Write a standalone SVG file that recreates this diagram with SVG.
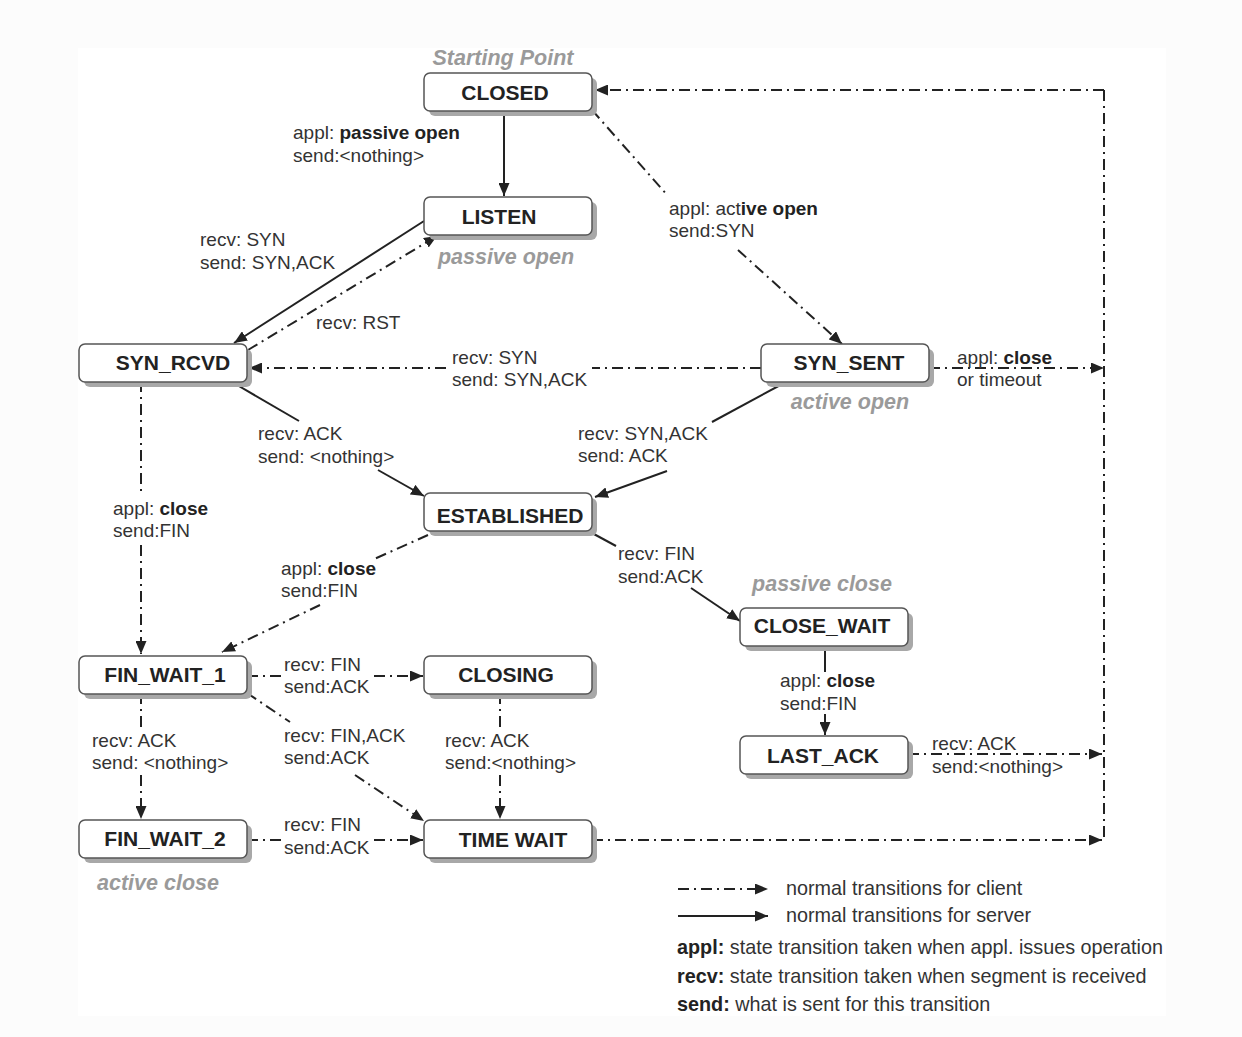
<svg xmlns="http://www.w3.org/2000/svg" width="1242" height="1037" viewBox="0 0 1242 1037">
<style>
.sh{fill:#a8a8a8}
.bx{fill:#fff;stroke:#555;stroke-width:1.5}
.nt{font-family:"Liberation Sans",Arial,sans-serif;font-weight:bold;font-size:21px;fill:#222;text-anchor:middle}
.gl{font-family:"Liberation Sans",Arial,sans-serif;font-weight:bold;font-style:italic;font-size:21.5px;fill:#9a9a9a;text-anchor:middle}
.el{font-family:"Liberation Sans",Arial,sans-serif;font-size:19px;fill:#333}
.lg{font-family:"Liberation Sans",Arial,sans-serif;font-size:19.8px;fill:#333}
.b{font-weight:bold;fill:#222}
.s{fill:none;stroke:#222;stroke-width:2}
.d{fill:none;stroke:#222;stroke-width:2;stroke-dasharray:11 5 2 5}
</style>
<defs>
<marker id="ah" viewBox="0 0 13 11" refX="13" refY="5.5" markerWidth="13" markerHeight="11" markerUnits="userSpaceOnUse" orient="auto">
<path d="M0,0 L13,5.5 L0,11 Z" fill="#222"/>
</marker>
</defs>
<rect x="0" y="0" width="1242" height="1037" fill="#fcfcfc"/>
<rect x="78" y="48" width="1088" height="968" fill="#fff"/>

<g id="connectors">
<!-- solid -->
<line class="s" x1="504" y1="111" x2="504" y2="196" marker-end="url(#ah)"/>
<line class="s" x1="424" y1="221" x2="234" y2="343" marker-end="url(#ah)"/>
<line class="s" x1="232" y1="382" x2="299" y2="421"/>
<line class="s" x1="378" y1="470" x2="424" y2="496" marker-end="url(#ah)"/>
<line class="s" x1="786" y1="382" x2="712" y2="422"/>
<line class="s" x1="667" y1="471" x2="595" y2="497" marker-end="url(#ah)"/>
<line class="s" x1="592" y1="533" x2="616" y2="546"/>
<line class="s" x1="691" y1="588" x2="740" y2="621" marker-end="url(#ah)"/>
<line class="s" x1="825" y1="646" x2="825" y2="672"/>
<line class="s" x1="825" y1="714" x2="825" y2="735" marker-end="url(#ah)"/>
<!-- dash-dot -->
<line class="d" x1="592" y1="110" x2="668" y2="196"/>
<line class="d" x1="738" y1="250" x2="842" y2="344" marker-end="url(#ah)"/>
<line class="d" x1="761" y1="368" x2="592" y2="368"/>
<line class="d" x1="446" y1="368" x2="249" y2="368" marker-end="url(#ah)"/>
<line class="d" x1="248" y1="350" x2="437" y2="236" marker-end="url(#ah)"/>
<line class="d" x1="929" y1="368" x2="1104" y2="368" marker-end="url(#ah)"/>
<line class="d" x1="1104" y1="90" x2="1104" y2="840"/>
<line class="d" x1="1104" y1="90" x2="595" y2="90" marker-end="url(#ah)"/>
<line class="d" x1="141" y1="381" x2="141" y2="495"/>
<line class="d" x1="141" y1="545" x2="141" y2="654" marker-end="url(#ah)"/>
<line class="d" x1="428" y1="535" x2="372" y2="560"/>
<line class="d" x1="320" y1="605" x2="222" y2="652" marker-end="url(#ah)"/>
<line class="d" x1="247" y1="676" x2="282" y2="676"/>
<line class="d" x1="374" y1="676" x2="423" y2="676" marker-end="url(#ah)"/>
<line class="d" x1="141" y1="693" x2="141" y2="730"/>
<line class="d" x1="141" y1="775" x2="141" y2="819" marker-end="url(#ah)"/>
<line class="d" x1="247" y1="693" x2="290" y2="722"/>
<line class="d" x1="355" y1="775" x2="424" y2="821" marker-end="url(#ah)"/>
<line class="d" x1="500" y1="693" x2="500" y2="730"/>
<line class="d" x1="500" y1="775" x2="500" y2="819" marker-end="url(#ah)"/>
<line class="d" x1="247" y1="840" x2="282" y2="840"/>
<line class="d" x1="374" y1="840" x2="423" y2="840" marker-end="url(#ah)"/>
<line class="d" x1="908" y1="754" x2="1102" y2="754" marker-end="url(#ah)"/>
<line class="d" x1="592" y1="840" x2="1102" y2="840" marker-end="url(#ah)"/>
</g>

<g id="CLOSED">
<rect class="sh" x="429" y="78" width="168" height="38" rx="6"/>
<rect class="bx" x="424" y="73" width="168" height="38" rx="6"/>
<text class="nt" x="505" y="100">CLOSED</text>
</g>
<g id="LISTEN">
<rect class="sh" x="429" y="202" width="168" height="38" rx="6"/>
<rect class="bx" x="424" y="197" width="168" height="38" rx="6"/>
<text class="nt" x="499" y="224">LISTEN</text>
</g>
<g id="SYN_RCVD">
<rect class="sh" x="84" y="349" width="168" height="38" rx="6"/>
<rect class="bx" x="79" y="344" width="168" height="38" rx="6"/>
<text class="nt" x="173" y="370">SYN_RCVD</text>
</g>
<g id="SYN_SENT">
<rect class="sh" x="766" y="349" width="168" height="38" rx="6"/>
<rect class="bx" x="761" y="344" width="168" height="38" rx="6"/>
<text class="nt" x="849" y="370">SYN_SENT</text>
</g>
<g id="ESTABLISHED">
<rect class="sh" x="429" y="498" width="168" height="38" rx="6"/>
<rect class="bx" x="424" y="493" width="168" height="38" rx="6"/>
<text class="nt" x="510" y="523">ESTABLISHED</text>
</g>
<g id="CLOSE_WAIT">
<rect class="sh" x="745" y="613" width="168" height="38" rx="6"/>
<rect class="bx" x="740" y="608" width="168" height="38" rx="6"/>
<text class="nt" x="822" y="633">CLOSE_WAIT</text>
</g>
<g id="LAST_ACK">
<rect class="sh" x="745" y="741" width="168" height="38" rx="6"/>
<rect class="bx" x="740" y="736" width="168" height="38" rx="6"/>
<text class="nt" x="823" y="763">LAST_ACK</text>
</g>
<g id="FIN_WAIT_1">
<rect class="sh" x="84" y="661" width="168" height="38" rx="6"/>
<rect class="bx" x="79" y="656" width="168" height="38" rx="6"/>
<text class="nt" x="165" y="682">FIN_WAIT_1</text>
</g>
<g id="CLOSING">
<rect class="sh" x="429" y="661" width="168" height="38" rx="6"/>
<rect class="bx" x="424" y="656" width="168" height="38" rx="6"/>
<text class="nt" x="506" y="682">CLOSING</text>
</g>
<g id="FIN_WAIT_2">
<rect class="sh" x="84" y="825" width="168" height="38" rx="6"/>
<rect class="bx" x="79" y="820" width="168" height="38" rx="6"/>
<text class="nt" x="165" y="846">FIN_WAIT_2</text>
</g>
<g id="TIME_WAIT">
<rect class="sh" x="429" y="825" width="168" height="38" rx="6"/>
<rect class="bx" x="424" y="820" width="168" height="38" rx="6"/>
<text class="nt" x="513" y="847">TIME WAIT</text>
</g>

<g id="state-notes">
<text class="gl" x="503" y="65">Starting Point</text>
<text class="gl" x="506" y="264">passive open</text>
<text class="gl" x="850" y="409">active open</text>
<text class="gl" x="822" y="591">passive close</text>
<text class="gl" x="158" y="890">active close</text>
</g>

<g id="edge-labels">
<text class="el" x="293" y="139">appl: <tspan class="b">passive open</tspan></text>
<text class="el" x="293" y="162">send:&lt;nothing&gt;</text>
<text class="el" x="200" y="246">recv: SYN</text>
<text class="el" x="200" y="269">send: SYN,ACK</text>
<text class="el" x="316" y="329">recv: RST</text>
<text class="el" x="669" y="215">appl: act<tspan class="b">ive open</tspan></text>
<text class="el" x="669" y="237">send:SYN</text>
<text class="el" x="452" y="364">recv: SYN</text>
<text class="el" x="452" y="386">send: SYN,ACK</text>
<text class="el" x="957" y="364">appl: <tspan class="b">close</tspan></text>
<text class="el" x="957" y="386">or timeout</text>
<text class="el" x="258" y="440">recv: ACK</text>
<text class="el" x="258" y="463">send: &lt;nothing&gt;</text>
<text class="el" x="578" y="440">recv: SYN,ACK</text>
<text class="el" x="578" y="462">send: ACK</text>
<text class="el" x="113" y="515">appl: <tspan class="b">close</tspan></text>
<text class="el" x="113" y="537">send:FIN</text>
<text class="el" x="281" y="575">appl: <tspan class="b">close</tspan></text>
<text class="el" x="281" y="597">send:FIN</text>
<text class="el" x="618" y="560">recv: FIN</text>
<text class="el" x="618" y="583">send:ACK</text>
<text class="el" x="780" y="687">appl: <tspan class="b">close</tspan></text>
<text class="el" x="780" y="710">send:FIN</text>
<text class="el" x="284" y="671">recv: FIN</text>
<text class="el" x="284" y="693">send:ACK</text>
<text class="el" x="92" y="747">recv: ACK</text>
<text class="el" x="92" y="769">send: &lt;nothing&gt;</text>
<text class="el" x="284" y="742">recv: FIN,ACK</text>
<text class="el" x="284" y="764">send:ACK</text>
<text class="el" x="445" y="747">recv: ACK</text>
<text class="el" x="445" y="769">send:&lt;nothing&gt;</text>
<text class="el" x="932" y="750">recv: ACK</text>
<text class="el" x="932" y="773">send:&lt;nothing&gt;</text>
<text class="el" x="284" y="831">recv: FIN</text>
<text class="el" x="284" y="854">send:ACK</text>
</g>

<g id="legend">
<line class="d" x1="678" y1="889" x2="768" y2="889" marker-end="url(#ah)"/>
<line class="s" x1="678" y1="916" x2="768" y2="916" marker-end="url(#ah)"/>
<text class="lg" x="786" y="895">normal transitions for client</text>
<text class="lg" x="786" y="922">normal transitions for server</text>
<text class="lg" x="677" y="954"><tspan class="b">appl:</tspan> state transition taken when appl. issues operation</text>
<text class="lg" x="677" y="983"><tspan class="b">recv:</tspan> state transition taken when segment is received</text>
<text class="lg" x="677" y="1011"><tspan class="b">send:</tspan> what is sent for this transition</text>
</g>
</svg>
